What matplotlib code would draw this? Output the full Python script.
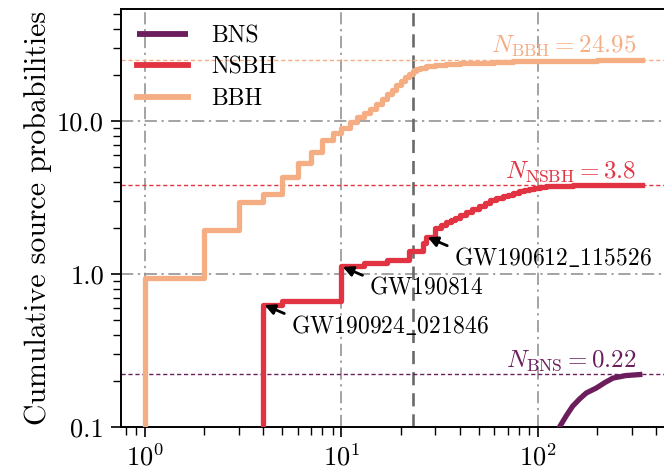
import matplotlib
matplotlib.use("Agg")
import matplotlib.pyplot as plt
from matplotlib.ticker import FixedLocator, FixedFormatter, LogLocator, NullFormatter

plt.rcParams.update({
    "font.family": "serif",
    "font.serif": ["cmr10", "DejaVu Serif"],
    "mathtext.fontset": "cm",
    "axes.formatter.use_mathtext": True,
    "font.size": 17,
})

# Cumulative source probabilities versus event rank
bbh_rank = [1, 2, 3, 4, 5, 6, 7, 8, 9, 10, 11, 12, 13, 14, 15, 16, 17, 18, 19,
            20, 21, 22, 23, 24, 25, 27, 30, 34, 40, 48, 60, 75, 98, 130, 200,
            340]
bbh_cum = [0.94, 1.94, 2.97, 3.34, 4.32, 5.29, 6.3, 7.5, 8.4, 8.96, 9.9, 10.6,
           11.3, 12.0, 13.0, 13.9, 14.9, 16.0, 17.1, 18.2, 19.3, 20.4, 21.3,
           21.8, 22.2, 22.8, 23.2, 23.5, 23.8, 24.1, 24.35, 24.5, 24.65, 24.8,
           24.9, 24.95]

nsbh_rank = [4, 5, 10, 13, 17, 22, 26, 27, 30, 32, 34, 36, 38, 40, 43, 46, 50,
             54, 57, 61, 66, 70, 75, 80, 85, 90, 95, 102, 110, 125, 150, 340]
nsbh_cum = [0.63, 0.66, 1.12, 1.17, 1.24, 1.42, 1.58, 1.75, 2.0, 2.08, 2.18,
            2.25, 2.32, 2.42, 2.55, 2.65, 2.78, 2.92, 3.02, 3.12, 3.22, 3.3,
            3.38, 3.46, 3.53, 3.6, 3.65, 3.71, 3.76, 3.78, 3.79, 3.80]

bns_rank = [125, 129, 140, 150, 163, 176, 198, 220, 241, 280, 340]
bns_cum = [0.092, 0.1, 0.119, 0.136, 0.152, 0.166, 0.179, 0.195, 0.208, 0.216,
           0.22]

n_bns = 0.22
n_nsbh = 3.8
n_bbh = 24.95

event_names = ["GW190924_021846", "GW190814", "GW190612_115526"]
event_rank = [4, 10, 27]
event_nsbh = [0.63, 1.12, 1.75]

rank_cut = 23

c_bns = "#6c1d5c"
c_nsbh = "#e13342"
c_bbh = "#f5ae84"

fig = plt.figure(figsize=(6.64, 4.69), dpi=100)
ax = fig.add_axes([0.1818, 0.0902, 0.8352, 0.8906])
ax.set_xscale("log")
ax.set_yscale("log")

# grid
for gx in [1, 10, 100]:
    ax.axvline(gx, color="#8a8a8a", lw=1.1, ls=(0, (8, 3, 1.5, 3)), zorder=1)
for gy in [1, 10]:
    ax.axhline(gy, color="#8a8a8a", lw=1.1, ls=(0, (8, 3, 1.5, 3)), zorder=1)
ax.axvline(rank_cut, color="#6a6a6a", lw=1.9, ls=(0, (5, 3)), zorder=1)

# totals
for n, c in [(n_bns, c_bns), (n_nsbh, c_nsbh), (n_bbh, c_bbh)]:
    ax.axhline(n, color=c, lw=1.0, ls=(0, (3, 2)), zorder=1)

ax.plot(bns_rank, bns_cum, color=c_bns, lw=3.8, label="BNS", zorder=3,
        solid_capstyle="butt")
ax.plot([nsbh_rank[0]] + nsbh_rank, [0] + nsbh_cum, color=c_nsbh, lw=3.8,
        drawstyle="steps-post", label="NSBH", zorder=3)
ax.plot([bbh_rank[0]] + bbh_rank, [0] + bbh_cum, color=c_bbh, lw=3.8,
        drawstyle="steps-post", label="BBH", zorder=3)

label_x = 316
ax.text(label_x, n_bbh * 1.015, r"$N_{\rm BBH} = %.2f$" % n_bbh, color=c_bbh,
        ha="right", va="bottom", fontsize=18)
ax.text(label_x, n_nsbh * 1.015, r"$N_{\rm NSBH} = %.1f$" % n_nsbh,
        color=c_nsbh, ha="right", va="bottom", fontsize=18)
ax.text(label_x, n_bns * 1.015, r"$N_{\rm BNS} = %.2f$" % n_bns, color=c_bns,
        ha="right", va="bottom", fontsize=18)

for name, r, v in zip(event_names, event_rank, event_nsbh):
    ax.annotate("", xy=(r, v), xytext=(21, -9), textcoords="offset pixels",
                arrowprops=dict(arrowstyle="-|>", color="black", lw=2.0,
                                mutation_scale=15, shrinkA=0, shrinkB=1),
                zorder=5)
    txt = r"$\mathrm{%s}$" % name.replace("_", r"\_")
    ax.annotate(txt, xy=(r, v), xytext=(28, -21), textcoords="offset pixels",
                ha="left", va="center", fontsize=17)

ax.set_xlim(0.752, 500)
ax.set_ylim(0.1, 54)

ax.yaxis.set_major_locator(FixedLocator([0.1, 1, 10]))
ax.yaxis.set_major_formatter(FixedFormatter(["0.1", "1.0", "10.0"]))
ax.yaxis.set_minor_locator(LogLocator(base=10, subs=range(2, 10)))
ax.yaxis.set_minor_formatter(NullFormatter())
ax.xaxis.set_major_locator(LogLocator(base=10))
ax.xaxis.set_minor_locator(LogLocator(base=10, subs=range(2, 10)))
ax.xaxis.set_minor_formatter(NullFormatter())

ax.tick_params(which="major", length=7, width=1.2, labelsize=19, pad=5)
ax.tick_params(which="minor", length=5.5, width=1.0)
for s in ax.spines.values():
    s.set_linewidth(1.4)

ax.set_ylabel("Cumulative source probabilities", fontsize=21.5, labelpad=4)

leg = ax.legend(loc="upper left", frameon=False, fontsize=17,
                handlelength=2.15, handletextpad=1.0, labelspacing=0.38,
                borderaxespad=0.3)
for h in leg.get_lines():
    h.set_linewidth(4.2)

fig.savefig("out.png", dpi=100)
